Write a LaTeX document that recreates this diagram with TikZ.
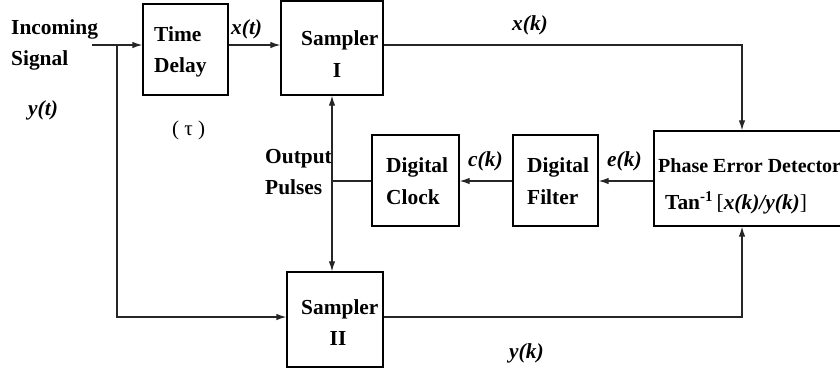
\documentclass[tikz,border=0pt]{standalone}
\usepackage{fontspec}
\setmainfont{Liberation Serif}
\usetikzlibrary{arrows.meta}
\begin{document}
\begin{tikzpicture}[x=1pt,y=-1pt,
  blk/.style={draw, line width=1.3pt, rectangle, inner sep=0pt},
  wire/.style={line width=1.2pt, draw=black!85},
  arr/.style={wire, -{Latex[length=10pt,width=6.5pt]}},
  lbl/.style={anchor=base west, inner sep=0pt, font=\fontsize{21.4}{25}\selectfont\bfseries},
  lblc/.style={lbl, anchor=base},
  sig/.style={lbl, font=\fontsize{21.4}{25}\selectfont\bfseries\itshape}]
\useasboundingbox (0,0) rectangle (840,376);
\clip (0,0) rectangle (840,376);

% blocks
\node[blk, minimum width=85pt, minimum height=91pt] (td) at (185.5,49.5) {};
\node[blk, minimum width=102pt, minimum height=94pt] (s1) at (332,48) {};
\node[blk, minimum width=96pt, minimum height=95pt] (s2) at (335,319.5) {};
\node[blk, minimum width=87pt, minimum height=91pt] (dc) at (415.5,180.5) {};
\node[blk, minimum width=85pt, minimum height=91pt] (df) at (555.5,180.5) {};
\node[blk, minimum width=206pt, minimum height=95pt] (ped) at (757,178.5) {};

% routing points
\coordinate (in) at (92,45);
\coordinate (br) at (117,45);
\coordinate (xk) at (742,45);
\coordinate (fb) at (0,181);
\coordinate (op) at (332,181);
\coordinate (yy) at (117,317);
\coordinate (yk) at (742,317);

% connectors
\draw[arr] (in) -- (in -| td.west);
\draw[arr] (td.east |- in) -- (in -| s1.west);
\draw[arr] (s1.east |- in) -- (xk) -- (xk |- ped.north);
\draw[arr] (fb -| ped.west) -- (fb -| df.east);
\draw[arr] (fb -| df.west) -- (fb -| dc.east);
\draw[wire] (fb -| dc.west) -- (op);
\draw[arr] (op) -- (op |- s1.south);
\draw[arr] (op) -- (op |- s2.north);
\draw[arr] (br) -- (yy) -- (yy -| s2.west);
\draw[arr] (s2.east |- yk) -- (yk) -- (yk |- ped.south);

% labels
\node[lbl] (l1) at (11,34) {Incoming};
\node[lbl] (l2) at (11,65) {Signal};
\node[sig] (l3) at (28,115) {y(t)};
\node[lbl, font=\fontsize{21}{25}\selectfont] (l4) at (172,135) {( τ )};
\node[lbl] (l5) at (154,41) {Time};
\node[lbl] (l6) at (154,72) {Delay};
\node[sig] (l7) at (231,34) {x(t)};
\node[lbl] (l8) at (301,45) {Sampler};
\node[lblc] (l9) at (337,77) {I};
\node[sig] (l10) at (512,30) {x(k)};
\node[lbl] (l11) at (265,163) {Output};
\node[lbl] (l12) at (265,194) {Pulses};
\node[lbl] (l13) at (386,172) {Digital};
\node[lbl] (l14) at (386,204) {Clock};
\node[sig] (l15) at (468,166) {c(k)};
\node[lbl] (l16) at (527,172) {Digital};
\node[lbl] (l17) at (527,204) {Filter};
\node[sig] (l18) at (607,166) {e(k)};
\node[lbl, font=\fontsize{20}{24}\selectfont\bfseries] (l19) at (658,172) {Phase Error Detector};
\node[lbl] (l20) at (665,209) {Tan\textsuperscript{-1}\,\mdseries[\bfseries\itshape x(k)/y(k)\upshape\mdseries]};
\node[lbl] (l21) at (301,314) {Sampler};
\node[lblc] (l22) at (338,345) {II};
\node[sig] (l23) at (509,358) {y(k)};
\end{tikzpicture}
\end{document}
